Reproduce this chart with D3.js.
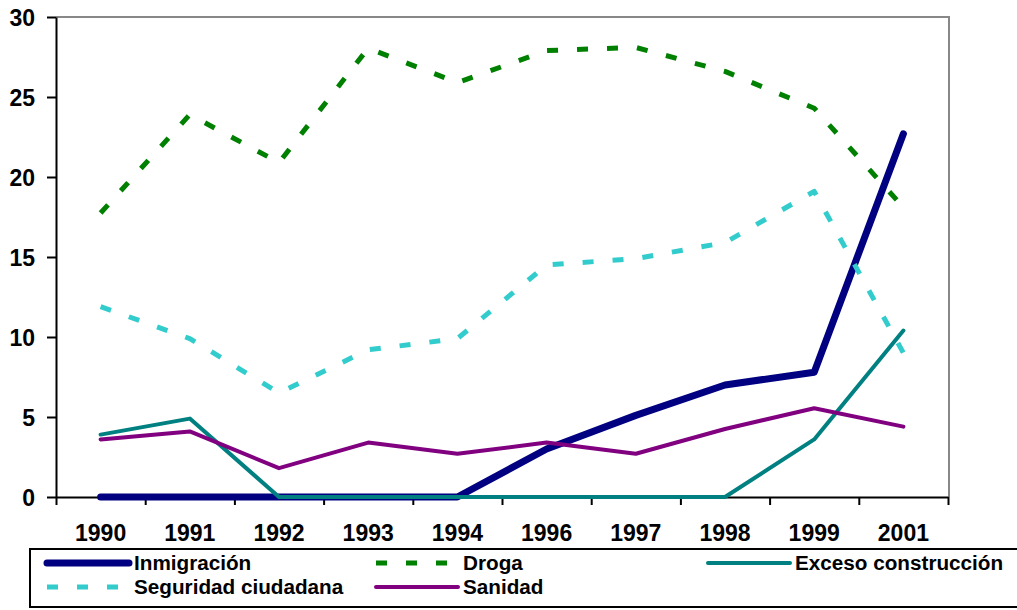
<!DOCTYPE html>
<html>
<head>
<meta charset="utf-8">
<script src="https://cdn.jsdelivr.net/npm/d3@7"></script>
<style>
  body { margin: 0; background: #fff; }
  svg text { font-family: "Liberation Sans", Arial, sans-serif; font-weight: bold; fill: #000; }
</style>
</head>
<body>
<div id="chart"></div>
<script>
const years = ["1990", "1991", "1992", "1993", "1994", "1996", "1997", "1998", "1999", "2001"];
const yTicks = [0, 5, 10, 15, 20, 25, 30];

const inmigracion = [0, 0, 0, 0, 0, 3.0, 5.1, 7.0, 7.8, 22.7];
const droga = [17.75, 23.9, 20.9, 28.05, 25.9, 27.9, 28.1, 26.6, 24.3, 18.1];
const excesoConstruccion = [3.9, 4.9, 0, 0, 0, 0, 0, 0, 3.6, 10.4];
const seguridadCiudadana = [11.9, 9.9, 6.5, 9.2, 9.9, 14.5, 14.9, 15.9, 19.1, 9.0];
const sanidad = [3.6, 4.1, 1.8, 3.4, 2.7, 3.4, 2.7, 4.25, 5.55, 4.4];

const series = [
  { name: "Inmigración", values: inmigracion, color: "#000080", width: 7, dash: null },
  { name: "Droga", values: droga, color: "#008000", width: 5, dash: "11,19" },
  { name: "Exceso construcción", values: excesoConstruccion, color: "#008080", width: 4, dash: null },
  { name: "Seguridad ciudadana", values: seguridadCiudadana, color: "#33CCCC", width: 5, dash: "11,19" },
  { name: "Sanidad", values: sanidad, color: "#800080", width: 4, dash: null }
];

const w = 1017, h = 610;
const plotLeft = 56, plotRight = 948, plotTop = 17, plotBottom = 497;

const svg = d3.select("#chart").append("svg").attr("width", w).attr("height", h);

const x = d3.scaleBand().domain(years).range([plotLeft, plotRight]);
const xEdge = d3.scaleLinear().domain([0, years.length]).range([plotLeft, plotRight]);
const y = d3.scaleLinear().domain([0, 30]).range([plotBottom, plotTop]);

// frame top/right (grey)
svg.append("path")
  .attr("d", `M${plotLeft},${plotTop}H${plotRight + 1}V${plotBottom}`)
  .attr("fill", "none")
  .attr("stroke", "#888")
  .attr("stroke-width", 2);

// y axis
const yAxis = svg.append("g")
  .attr("transform", `translate(${plotLeft},0)`)
  .call(d3.axisLeft(y).tickValues(yTicks).tickSize(9).tickPadding(12).tickSizeOuter(0));
yAxis.selectAll("path, line").attr("stroke", "#000").attr("stroke-width", 2);
yAxis.selectAll("text").style("font-size", "23px").attr("dy", "0.36em");

// x axis tick marks at band edges
const xTicks = svg.append("g")
  .attr("transform", `translate(0,${plotBottom})`)
  .call(d3.axisBottom(xEdge).ticks(years.length).tickSize(8).tickSizeOuter(0).tickFormat(""));
xTicks.selectAll("path, line").attr("stroke", "#000").attr("stroke-width", 2);

// x labels centered on bands
const xLabels = svg.append("g")
  .attr("transform", `translate(0,${plotBottom})`)
  .call(d3.axisBottom(x).tickSize(0).tickPadding(28));
xLabels.select(".domain").remove();
xLabels.selectAll("text").style("font-size", "23px");

const line = d3.line()
  .x((d, i) => x(years[i]) + x.bandwidth() / 2)
  .y((d) => y(d));

svg.selectAll("path.series")
  .data(series)
  .enter()
  .append("path")
  .attr("class", "series")
  .attr("d", (d) => line(d.values))
  .attr("fill", "none")
  .attr("stroke", (d) => d.color)
  .attr("stroke-width", (d) => d.width)
  .attr("stroke-dasharray", (d) => d.dash)
  .attr("stroke-linejoin", "round")
  .attr("stroke-linecap", (d) => (d.dash ? "butt" : "round"));

// legend
const legend = svg.append("g");
legend.append("rect")
  .attr("x", 30).attr("y", 549)
  .attr("width", 1000).attr("height", 58)
  .attr("fill", "none")
  .attr("stroke", "#000")
  .attr("stroke-width", 2);

const legendPos = [
  { lx: 47, tx: 134, ly: 563 },
  { lx: 376, tx: 463, ly: 563 },
  { lx: 708, tx: 795, ly: 563 },
  { lx: 47, tx: 134, ly: 587 },
  { lx: 376, tx: 463, ly: 587 }
];

series.forEach((s, i) => {
  const p = legendPos[i];
  legend.append("line")
    .attr("x1", p.lx).attr("x2", p.lx + 82)
    .attr("y1", p.ly).attr("y2", p.ly)
    .attr("stroke", s.color)
    .attr("stroke-width", s.dash ? 5 : (i === 0 ? 7 : 4))
    .attr("stroke-dasharray", s.dash)
    .attr("stroke-linecap", s.dash ? "butt" : "round");
  legend.append("text")
    .attr("x", p.tx).attr("y", p.ly + 7)
    .style("font-size", "20.7px")
    .text(s.name);
});
</script>
</body>
</html>
